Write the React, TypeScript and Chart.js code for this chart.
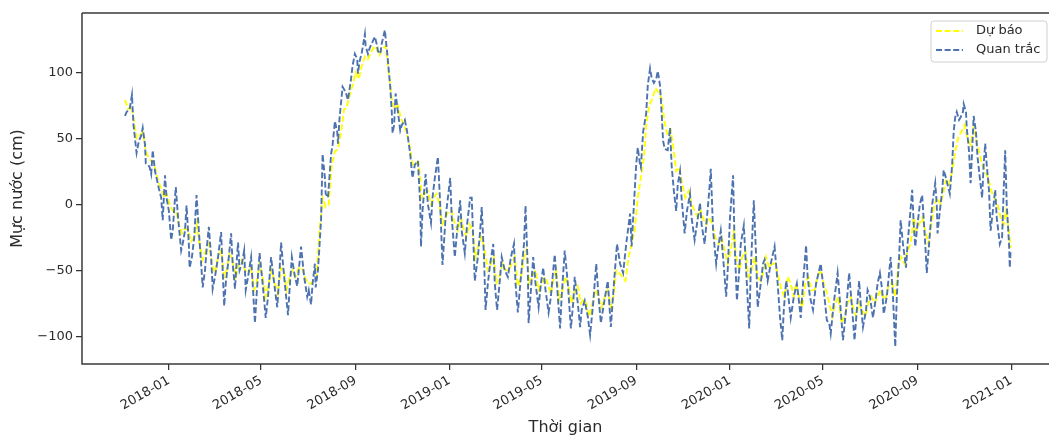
import React, { useEffect, useRef } from "react";
import { Chart, registerables } from "chart.js";

Chart.register(...registerables);

// X tick labels (month starts)
const xTickLabels = ["2018-01", "2018-05", "2018-09", "2019-01", "2019-05", "2019-09", "2020-01", "2020-05", "2020-09", "2021-01"];
// Y ticks
const yTickValues = [-100, -50, 0, 50, 100];
const yTickLabels = ["\u2212100", "\u221250", "0", "50", "100"];

// Observed ("Quan trắc"): day offsets since 2018-01-01 and water level (cm)
const obsDay = [
  -57, -55, -51, -48, -46, -42, -39, -36, -34, -31, -30, -27, -25, -23, -21, -18, -16, -13, -10, -8,
  -5, -3, 0, 3, 5, 9, 12, 16, 18, 21, 23, 26, 27, 30, 33, 36, 39, 42, 44, 47,
  49, 52, 55, 57, 60, 64, 68, 70, 72, 74, 78, 81, 83, 86, 88, 90, 92, 95, 98, 100,
  103, 107, 109, 112, 114, 118, 122, 126, 129, 133, 137, 141, 143, 146, 150, 155, 157, 160, 164, 167,
  169, 172, 176, 180, 182, 185, 187, 190, 191, 194, 198, 200, 203, 204, 207, 211, 213, 216, 219, 220,
  222, 226, 230, 233, 237, 239, 242, 245, 246, 248, 251, 255, 256, 259, 261, 264, 268, 271, 272, 275,
  277, 281, 284, 288, 290, 291, 293, 295, 298, 301, 303, 307, 310, 314, 316, 317, 320, 324, 327, 328,
  330, 334, 337, 341, 343, 346, 350, 353, 356, 360, 363, 366, 368, 372, 375, 379, 381, 385, 388, 392,
  394, 398, 402, 405, 407, 410, 412, 415, 418, 422, 424, 427, 431, 433, 437, 441, 445, 449, 451, 454,
  458, 462, 464, 467, 468, 471, 474, 477, 481, 484, 487, 490, 494, 497, 500, 502, 506, 509, 511, 515,
  519, 523, 526, 528, 532, 535, 537, 541, 545, 548, 552, 556, 559, 562, 566, 571, 575, 579, 583, 587,
  591, 595, 600, 602, 605, 608, 610, 613, 614, 617, 621, 623, 626, 628, 631, 634, 636, 639, 641, 643,
  645, 649, 652, 654, 657, 660, 662, 665, 667, 671, 674, 678, 680, 684, 687, 691, 693, 697, 700, 703,
  705, 708, 712, 714, 718, 721, 725, 727, 730, 734, 736, 739, 742, 744, 748, 751, 755, 757, 761, 764,
  766, 769, 773, 775, 779, 783, 788, 792, 795, 798, 800, 803, 805, 809, 813, 817, 820, 822, 825, 829,
  831, 834, 838, 842, 846, 848, 852, 856, 859, 861, 865, 870, 874, 877, 881, 885, 889, 892, 895, 898,
  900, 903, 907, 909, 912, 916, 920, 922, 925, 928, 930, 934, 939, 942, 945, 947, 950, 952, 955, 959,
  961, 964, 967, 969, 971, 974, 977, 980, 984, 986, 989, 993, 997, 999, 1000, 1003, 1006, 1008, 1011, 1013,
  1016, 1019, 1021, 1023, 1025, 1028, 1030, 1033, 1034, 1037, 1038, 1041, 1043, 1045, 1047, 1050, 1052, 1055, 1058, 1060,
  1062, 1064, 1067, 1069, 1072, 1075, 1077, 1081, 1084, 1086, 1088, 1090, 1093, 1094, 1095,
];
const obsValue = [
  67, 70, 72, 83, 60, 39, 48, 52, 58, 45, 31, 30, 28, 23, 41, 25, 20, 12, 5, -12,
  22, 5, -5, -27, -20, 13, -10, -35, -30, -20, -1, -30, -48, -40, -25, 7, -20, -45, -63, -50,
  -35, -17, -40, -64, -55, -40, -21, -50, -77, -60, -40, -22, -45, -64, -45, -29, -50, -45, -35, -65,
  -55, -40, -60, -90, -70, -37, -60, -86, -70, -40, -60, -78, -60, -29, -55, -84, -65, -40, -55, -62,
  -50, -32, -55, -70, -65, -76, -60, -45, -63, -50, -12, 38, 20, 8, 5, 38, 45, 63, 55, 46,
  65, 89, 85, 79, 95, 105, 114, 110, 99, 108, 115, 129, 120, 114, 118, 122, 127, 120, 116, 114,
  122, 132, 115, 89, 70, 54, 60, 84, 70, 56, 60, 64, 55, 38, 25, 20, 30, 33, 0, -32,
  -5, 23, 0, -14, 5, 20, 36, 0, -46, -10, 5, 20, -10, -40, -20, 3, -20, -37, -15, 5,
  5, -58, -40, -20, -2, -40, -80, -60, -45, -30, -60, -80, -55, -40, -50, -55, -40, -30, -60, -82,
  -55, -30, -1, -50, -90, -65, -40, -60, -78, -60, -48, -65, -82, -70, -50, -38, -70, -94, -70, -35,
  -60, -94, -75, -55, -75, -93, -80, -73, -85, -99, -75, -45, -70, -90, -75, -58, -93, -60, -30, -45,
  -52, -30, -7, -32, 0, 30, 43, 30, 28, 55, 69, 90, 103, 96, 92, 95, 101, 90, 70, 48,
  42, 41, 58, 30, 10, -5, 15, 25, 5, -22, -5, 8, -10, -27, -15, 1, -15, -30, -10, 10,
  27, -20, -45, -35, -20, -40, -70, -50, -10, 22, -30, -73, -50, -30, -16, -50, -94, -50, 3, -40,
  -78, -65, -45, -42, -58, -45, -32, -60, -85, -103, -80, -58, -65, -86, -70, -60, -75, -86, -60, -31,
  -55, -70, -80, -60, -50, -45, -65, -88, -90, -98, -75, -52, -80, -103, -80, -52, -80, -103, -80, -58,
  -75, -93, -80, -65, -70, -86, -70, -60, -52, -65, -83, -70, -40, -70, -108, -70, -40, -12, -30, -48,
  -30, -10, 11, -15, -32, -15, 0, 7, -30, -52, -30, 0, 16, 0, -22, -5, 10, 26, 20, 15,
  8, 30, 55, 66, 70, 64, 66, 70, 76, 70, 58, 40, 16, 40, 67, 55, 36, 20, 5, 30,
  46, 30, 10, -20, -5, 11, -10, -30, -25, 10, 41, 0, -30, -48, -35,
];

// Forecast ("Dự báo"): day offsets since 2018-01-01 and water level (cm)
const fcDay = [
  -57, -53, -49, -45, -42, -38, -34, -30, -26, -22,
  -18, -14, -10, -6, -3, 1, 5, 9, 13, 17,
  21, 25, 29, 33, 36, 40, 44, 48, 52, 56,
  60, 64, 68, 72, 75, 79, 83, 87, 91, 95,
  99, 103, 107, 111, 114, 118, 122, 126, 130, 134,
  138, 142, 146, 150, 153, 157, 161, 165, 169, 173,
  177, 181, 185, 189, 192, 196, 200, 204, 208, 212,
  216, 220, 224, 228, 231, 235, 239, 243, 247, 251,
  255, 259, 263, 267, 270, 274, 278, 282, 286, 290,
  294, 298, 302, 306, 309, 313, 317, 321, 325, 329,
  333, 337, 341, 345, 348, 352, 356, 360, 364, 368,
  372, 376, 380, 384, 387, 391, 395, 399, 403, 407,
  411, 415, 419, 423, 426, 430, 434, 438, 442, 446,
  450, 454, 458, 462, 465, 469, 473, 477, 481, 485,
  489, 493, 497, 501, 504, 508, 512, 516, 520, 524,
  528, 532, 536, 540, 543, 547, 551, 555, 559, 563,
  567, 571, 575, 579, 582, 586, 590, 594, 598, 602,
  606, 610, 614, 618, 621, 625, 629, 633, 637, 641,
  645, 649, 653, 657, 660, 664, 668, 672, 676, 680,
  684, 688, 692, 696, 699, 703, 707, 711, 715, 719,
  723, 727, 731, 735, 738, 742, 746, 750, 754, 758,
  762, 766, 770, 774, 777, 781, 785, 789, 793, 797,
  801, 805, 809, 813, 816, 820, 824, 828, 832, 836,
  840, 844, 848, 852, 855, 859, 863, 867, 871, 875,
  879, 883, 887, 891, 894, 898, 902, 906, 910, 914,
  918, 922, 926, 930, 933, 937, 941, 945, 949, 953,
  957, 961, 965, 969, 972, 976, 980, 984, 988, 992,
  996, 1000, 1004, 1008, 1011, 1015, 1019, 1023, 1027, 1031,
  1035, 1039, 1043, 1047, 1050, 1054, 1058, 1062, 1066, 1070,
  1074, 1078, 1082, 1086, 1089, 1093, 1095,
];
const fcValue = [
  79, 72, 75, 62, 50, 52, 55, 40, 35, 32,
  28, 18, 12, 5, 8, 0, -5, -5, -15, -22,
  -18, -20, -28, -25, -15, -30, -42, -35, -30, -45,
  -52, -40, -35, -55, -50, -38, -42, -55, -45, -42,
  -50, -52, -48, -65, -60, -45, -55, -70, -60, -50,
  -60, -68, -48, -50, -65, -55, -50, -55, -48, -48,
  -55, -60, -60, -58, -55, -20, 5, -2, 0, 30,
  40, 42, 55, 72, 73, 82, 90, 100, 95, 105,
  112, 110, 115, 120, 118, 113, 118, 120, 100, 80,
  72, 75, 65, 60, 55, 45, 30, 32, 32, 5,
  8, 10, 0, 5, 8, 0, -15, -10, -5, -5,
  -15, -20, -10, -20, -25, -15, -20, -40, -30, -25,
  -35, -50, -45, -40, -60, -55, -45, -50, -50, -45,
  -40, -62, -55, -40, -35, -60, -55, -50, -65, -60,
  -55, -60, -68, -55, -50, -72, -65, -55, -62, -75,
  -65, -62, -75, -72, -75, -85, -75, -65, -70, -78,
  -70, -65, -78, -68, -50, -52, -55, -58, -40, -30,
  -20, 5, 20, 35, 60, 75, 80, 88, 85, 80,
  62, 52, 56, 40, 25, 28, 15, 5, 10, 0,
  -5, -10, -5, -12, -15, -10, -15, -25, -30, -25,
  -35, -45, -35, -20, -40, -50, -40, -35, -55, -50,
  -40, -55, -58, -50, -40, -48, -45, -45, -55, -65,
  -70, -55, -60, -70, -60, -70, -78, -60, -55, -65,
  -65, -55, -50, -60, -65, -75, -85, -75, -70, -90,
  -85, -75, -70, -80, -85, -75, -80, -85, -75, -70,
  -75, -70, -65, -72, -70, -60, -60, -70, -45, -40,
  -45, -35, -30, -10, -20, -15, -10, -20, -30, -15,
  0, 5, 0, 10, 18, 15, 25, 40, 51, 55,
  60, 50, 45, 58, 50, 40, 30, 25, 20, 10,
  5, 0, -10, -15, -5, -20, -33,
];

const seriesNames = ["Dự báo", "Quan trắc"];
const seriesColors = ["#ffff00", "#4c72b0"];

const DAY0 = Date.UTC(2018, 0, 1);
const monthToDay = (s: string) => {
  const [y, m] = s.split("-").map(Number);
  return (Date.UTC(y, m - 1, 1) - DAY0) / 86400000;
};
const xTickDays = xTickLabels.map(monthToDay);

const FONT = "'DejaVu Sans', 'Noto Sans', sans-serif";
const TEXT = "#2b2b2b";
const DASH = [6, 2.6];
const LW = 1.9;

const framePlugin = {
  id: "frame",
  afterDatasetsDraw(chart: any) {
    const { ctx, chartArea: a } = chart;
    ctx.save();
    ctx.strokeStyle = "#3a3a3a";
    ctx.lineWidth = 1.5;
    ctx.beginPath();
    ctx.moveTo(a.left, a.top);
    ctx.lineTo(a.right, a.top);
    ctx.moveTo(a.left, a.top);
    ctx.lineTo(a.left, a.bottom);
    ctx.lineTo(a.right, a.bottom);
    ctx.stroke();
    ctx.restore();
  },
};

const legendPlugin = {
  id: "customLegend",
  afterDraw(chart: any) {
    const { ctx } = chart;
    const x = 931, y = 21, w = 116, h = 41, r = 3;
    ctx.save();
    ctx.beginPath();
    ctx.moveTo(x + r, y);
    ctx.lineTo(x + w - r, y);
    ctx.arcTo(x + w, y, x + w, y + r, r);
    ctx.lineTo(x + w, y + h - r);
    ctx.arcTo(x + w, y + h, x + w - r, y + h, r);
    ctx.lineTo(x + r, y + h);
    ctx.arcTo(x, y + h, x, y + h - r, r);
    ctx.lineTo(x, y + r);
    ctx.arcTo(x, y, x + r, y, r);
    ctx.closePath();
    ctx.fillStyle = "rgba(255,255,255,0.8)";
    ctx.fill();
    ctx.strokeStyle = "#d0d0d0";
    ctx.lineWidth = 1;
    ctx.stroke();
    ctx.font = `13px ${FONT}`;
    ctx.textBaseline = "middle";
    ctx.textAlign = "left";
    seriesNames.forEach((name, i) => {
      const ly = 31 + i * 19;
      ctx.strokeStyle = seriesColors[i];
      ctx.lineWidth = LW;
      ctx.setLineDash(DASH);
      ctx.beginPath();
      ctx.moveTo(936, ly);
      ctx.lineTo(963, ly);
      ctx.stroke();
      ctx.setLineDash([]);
      ctx.fillStyle = TEXT;
      ctx.fillText(name, 976, ly);
    });
    ctx.restore();
  },
};

export default function App() {
  const canvasRef = useRef<HTMLCanvasElement | null>(null);

  useEffect(() => {
    if (!canvasRef.current) return;
    const chart = new Chart(canvasRef.current, {
      type: "line",
      data: {
        datasets: [
          {
            label: seriesNames[1],
            data: obsDay.map((d, i) => ({ x: d, y: obsValue[i] })),
            borderColor: seriesColors[1],
            borderWidth: LW,
            borderDash: DASH,
            pointRadius: 0,
            tension: 0,
            fill: false,
            order: 1,
          },
          {
            label: seriesNames[0],
            data: fcDay.map((d, i) => ({ x: d, y: fcValue[i] })),
            borderColor: seriesColors[0],
            borderWidth: LW,
            borderDash: DASH,
            pointRadius: 0,
            tension: 0,
            fill: false,
            order: 2,
          },
        ],
      },
      options: {
        responsive: false,
        animation: false,
        events: [],
        layout: { padding: { top: 13, left: 0, right: 0, bottom: 0 } },
        plugins: {
          legend: { display: false },
          tooltip: { enabled: false },
          title: { display: false },
        },
        scales: {
          x: {
            type: "linear",
            min: -113,
            max: 1145,
            afterFit: (s: any) => {
              s.height = 73;
            },
            afterBuildTicks: (s: any) => {
              s.ticks = xTickDays.map((v) => ({ value: v }));
            },
            ticks: {
              autoSkip: false,
              maxRotation: 30,
              minRotation: 30,
              padding: 3,
              color: TEXT,
              font: { family: FONT, size: 13 },
              callback: (_v: any, i: number) => xTickLabels[i],
            },
            grid: { drawOnChartArea: false, drawTicks: true, tickLength: 6, color: "#333", lineWidth: 1.25 },
            border: { display: false },
            title: {
              display: true,
              text: "Thời gian",
              color: TEXT,
              font: { family: FONT, size: 16, lineHeight: 1.2 },
              padding: { top: 0, bottom: 0 },
            },
          },
          y: {
            type: "linear",
            min: -121,
            max: 145,
            afterFit: (s: any) => {
              s.width = 82;
            },
            afterBuildTicks: (s: any) => {
              s.ticks = yTickValues.map((v) => ({ value: v }));
            },
            ticks: {
              padding: 3,
              color: TEXT,
              font: { family: FONT, size: 13 },
              callback: (_v: any, i: number) => yTickLabels[i],
            },
            grid: { drawOnChartArea: false, drawTicks: true, tickLength: 6, color: "#333", lineWidth: 1.25 },
            border: { display: false },
            title: {
              display: true,
              text: "Mực nước (cm)",
              color: TEXT,
              font: { family: FONT, size: 16, lineHeight: 1.2 },
              padding: { top: 8, bottom: 0 },
            },
          },
        },
      },
      plugins: [framePlugin, legendPlugin],
    } as any);
    return () => chart.destroy();
  }, []);

  return (
    <div style={{ position: "absolute", left: 0, top: 0, width: 1049, height: 437, background: "#fff" }}>
      <canvas ref={canvasRef} width={1049} height={437} style={{ display: "block" }} />
    </div>
  );
}
